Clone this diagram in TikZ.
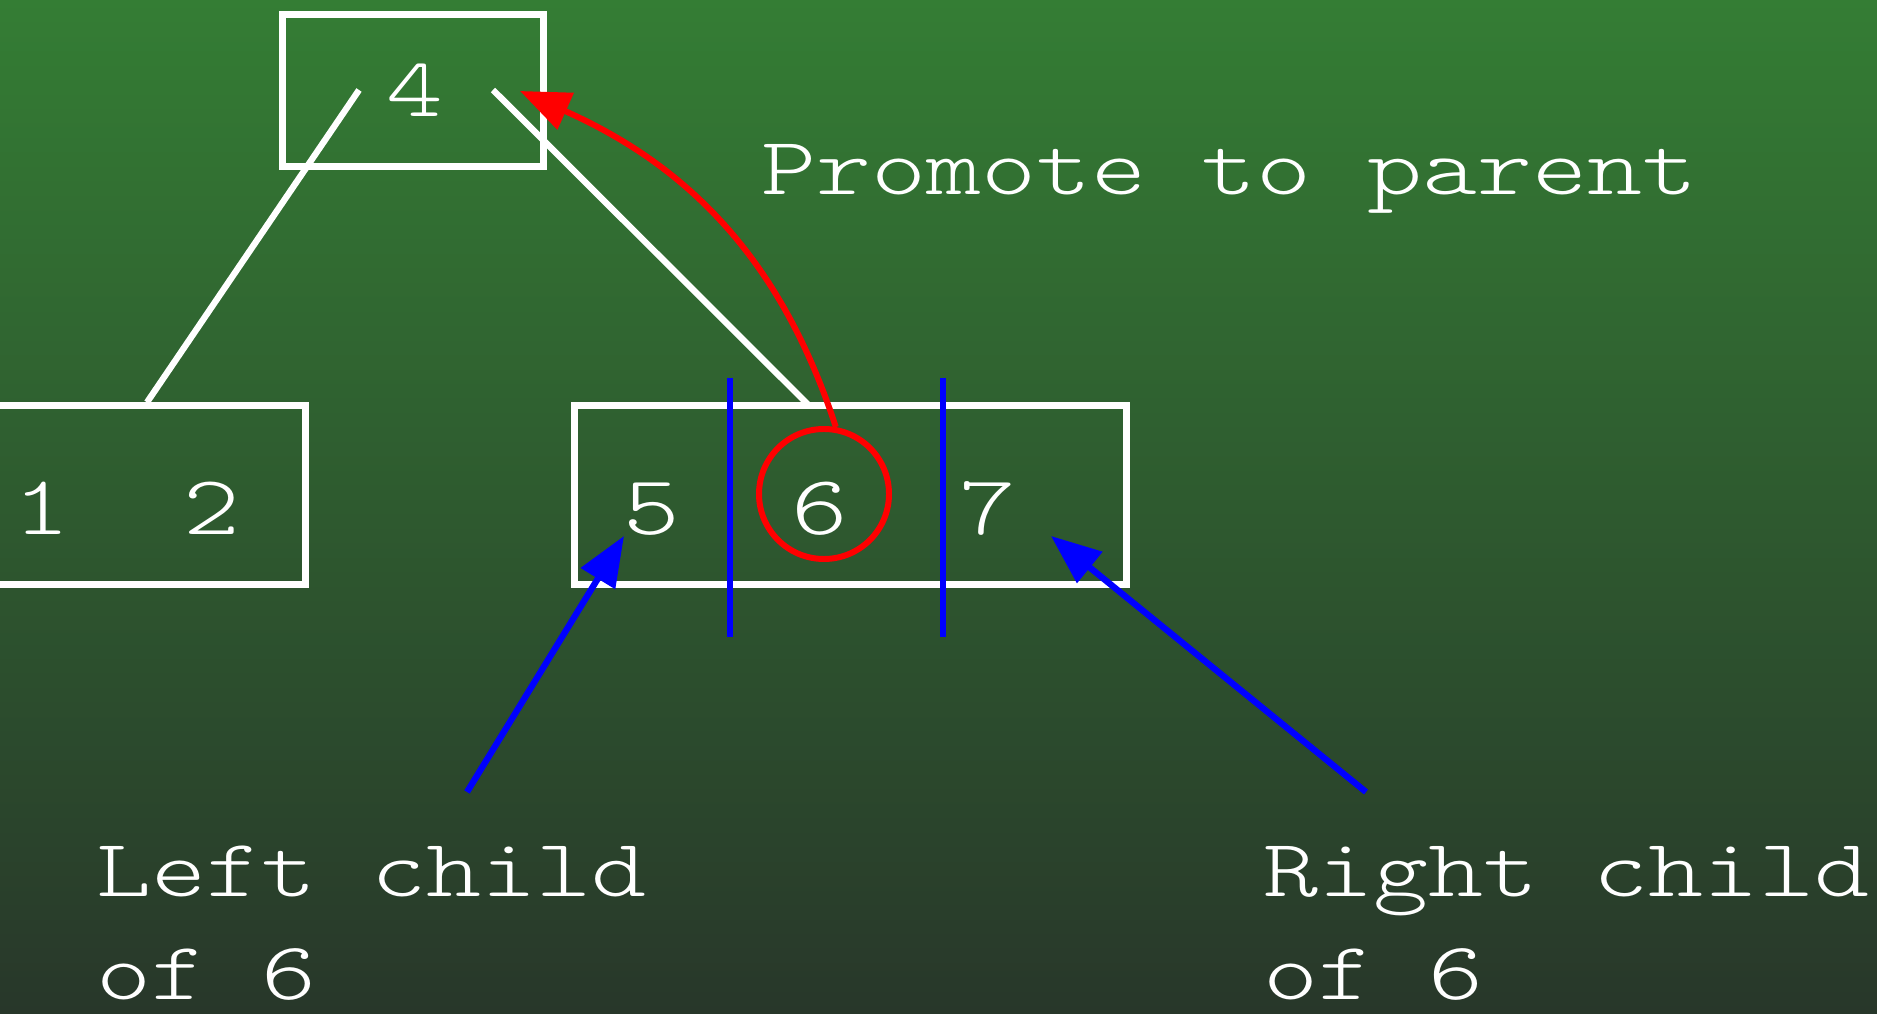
\documentclass[tikz,border=0pt]{standalone}
\usepackage{fontspec}
\usepackage{tikz}
\usetikzlibrary{arrows.meta, positioning}

\newfontfamily\treefont{Latin Modern Mono Light}[FakeStretch=1.28]
\definecolor{bgtop}{RGB}{52,125,52}
\definecolor{bgbot}{RGB}{40,55,42}

\begin{document}
\begin{tikzpicture}[
    box/.style={draw=white, line width=1.8pt, inner sep=0pt, minimum height=1.79cm},
    digit/.style={text=white, inner sep=0pt, anchor=base, font=\treefont\fontsize{24}{29.3}\selectfont},
    note/.style={text=white, inner sep=0pt, anchor=base west, align=left, font=\treefont\fontsize{23.3}{29.3}\selectfont},
    edge/.style={draw=white, line width=1.8pt},
    ptr/.style={draw=blue, line width=1.8pt, -{Triangle[length=5mm, width=3.9mm]}, fill=blue}
]

% background
\shade[top color=bgtop, bottom color=bgbot] (0,0) rectangle (18.77,10.13);
\useasboundingbox (0,0) rectangle (18.77,10.13);

% nodes of the tree
\node[box, minimum width=2.61cm, minimum height=1.52cm] (root) at (4.13,9.225) {};
\node[box, minimum width=3.17cm] (leaf) at (1.47,5.18) {};
\node[box, minimum width=5.52cm] (mid) at (8.505,5.18) {};

\node[digit] (k4) at (4.15,8.96) {4};
\node[digit] (k1) at (0.42,4.78) {1};
\node[digit] (k2) at (2.12,4.78) {2};
\foreach \d/\x in {5/6.52, 6/8.20, 7/9.88}
    \node[digit] (k\d) at (\x,4.78) {\d};

% child pointers
\coordinate (rootL) at (3.59,9.23);
\coordinate (rootR) at (4.93,9.23);
\coordinate (midtop) at (8.09,6.075);
\draw[edge] (rootL) -- (leaf.north);
\draw[edge] (rootR) -- (midtop);

% split of the 3-node
\foreach \x in {7.30, 9.43}
    \draw[blue, line width=1.8pt] (\x,6.35) -- (\x,3.76);

\node[circle, draw=red, line width=1.7pt, minimum size=1.30cm, inner sep=0pt] (pick) at (8.24,5.19) {};
\coordinate (up) at (5.20,9.22);
\draw[red, line width=1.7pt, -{Triangle[length=5mm, width=3.9mm]}] (pick.80) to[out=108, in=-24] (up);
\node[note] (promote) at (7.61,8.18) {Promote to parent};

% where the children go
\coordinate (lfrom) at (4.67,2.21);
\coordinate (lto) at (6.24,4.77);
\coordinate (rfrom) at (13.66,2.21);
\coordinate (rto) at (10.51,4.77);
\draw[ptr] (lfrom) -- (lto);
\draw[ptr] (rfrom) -- (rto);
\node[note] (lnote) at (0.96,0.14) {Left child\\of 6};
\node[note] (rnote) at (12.63,0.14) {Right child\\of 6};

\end{tikzpicture}
\end{document}
